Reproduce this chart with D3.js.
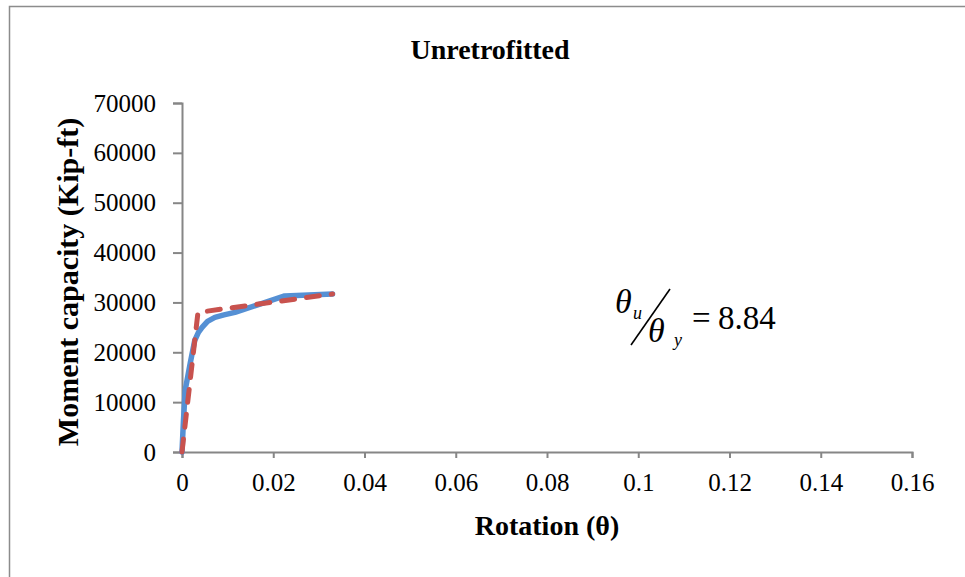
<!DOCTYPE html>
<html>
<head>
<meta charset="utf-8">
<script src="https://cdn.jsdelivr.net/npm/d3@7/dist/d3.min.js"></script>
<style>
  html, body { margin: 0; padding: 0; background: #fff; }
  svg { display: block; }
  text { font-family: "Liberation Serif", "Times New Roman", serif; fill: #000; }
</style>
</head>
<body>
<svg id="chart" width="965" height="577"></svg>
<script>
// Moment–rotation response of the unretrofitted section
const actualRotation = [0, 0.0003, 0.0007, 0.0018, 0.0028, 0.0036, 0.0044, 0.0056, 0.0072, 0.0092, 0.0116, 0.0225, 0.033];
const actualMoment   = [0, 6000, 12400, 17800, 22400, 24000, 25000, 26200, 27000, 27500, 28000, 31300, 31700];

// Bilinear idealisation of the same curve
const idealRotation = [0, 0.0035, 0.033];
const idealMoment   = [0, 28000, 31700];

const xTicks = [0, 0.02, 0.04, 0.06, 0.08, 0.1, 0.12, 0.14, 0.16];
const yTicks = [0, 10000, 20000, 30000, 40000, 50000, 60000, 70000];

const chartTitle = "Unretrofitted";
const xTitle = "Rotation (θ)";
const yTitle = "Moment capacity (Kip-ft)";
const ductility = "8.84";

const serif = '"Liberation Serif", "Times New Roman", serif';
const svg = d3.select("#chart");
const W = 965, H = 577;

// outer chart frame
svg.append("rect")
  .attr("x", 9.5).attr("y", 6.5)
  .attr("width", W + 20).attr("height", H + 20)
  .attr("fill", "none").attr("stroke", "#8c8c8c").attr("stroke-width", 1.5);

const x = d3.scaleLinear().domain([0, 0.16]).range([182, 912]);
const y = d3.scaleLinear().domain([0, 70000]).range([452, 103]);

const axisColor = "#868686";

const gx = svg.append("g")
  .attr("transform", `translate(0,${y(0)})`)
  .call(d3.axisBottom(x).tickValues(xTicks).tickFormat(d => String(+d.toFixed(2)))
        .tickSize(6).tickSizeOuter(6).tickPadding(15));
const gy = svg.append("g")
  .attr("transform", `translate(${x(0)},0)`)
  .call(d3.axisLeft(y).tickValues(yTicks).tickFormat(d => String(d))
        .tickSize(9).tickSizeOuter(9).tickPadding(17));

[gx, gy].forEach(g => {
  g.select(".domain").attr("stroke", axisColor).attr("stroke-width", 2);
  g.selectAll(".tick line").attr("stroke", axisColor).attr("stroke-width", 2);
  g.selectAll(".tick text")
    .style("font-family", serif)
    .style("font-size", "25px").attr("fill", "#000");
});

const line = d3.line().x(d => x(d[0])).y(d => y(d[1]));

svg.append("path")
  .datum(d3.zip(actualRotation, actualMoment))
  .attr("d", line)
  .attr("fill", "none").attr("stroke", "#5590D4")
  .attr("stroke-width", 5.5).attr("stroke-linejoin", "round").attr("stroke-linecap", "round");

svg.append("path")
  .datum(d3.zip(idealRotation, idealMoment))
  .attr("d", line)
  .attr("fill", "none").attr("stroke", "#C8524E")
  .attr("stroke-width", 5).attr("stroke-dasharray", "13,12")
  .attr("stroke-linecap", "round").attr("stroke-linejoin", "round");

// titles
svg.append("text").attr("x", 490).attr("y", 59)
  .attr("text-anchor", "middle").attr("font-weight", "bold").attr("font-size", 28)
  .style("font-family", serif)
  .text(chartTitle);
svg.append("text").attr("x", 547).attr("y", 535)
  .attr("text-anchor", "middle").attr("font-weight", "bold").attr("font-size", 28)
  .style("font-family", serif)
  .text(xTitle);
svg.append("text")
  .attr("transform", "translate(78,282) rotate(-90)")
  .attr("text-anchor", "middle").attr("font-weight", "bold").attr("font-size", 30)
  .style("font-family", serif)
  .text(yTitle);

// ductility ratio θu / θy
const eq = svg.append("g");
const eqText = (tx, ty, size, italic, str) =>
  eq.append("text").attr("x", tx).attr("y", ty)
    .style("font-family", "'Liberation Serif'")
    .style("font-size", size + "px")
    .style("font-style", italic ? "italic" : "normal")
    .text(str);
eqText(615, 313, 34, true, "θ");
eqText(633, 319, 18, true, "u");
eq.append("line")
  .attr("x1", 631).attr("y1", 345).attr("x2", 670).attr("y2", 289)
  .attr("stroke", "#000").attr("stroke-width", 1.6);
eqText(648, 342, 34, true, "θ");
eqText(674, 346, 18, true, "y");
eqText(692, 329, 33, false, "=");
eqText(718, 329, 33, false, ductility);
</script>
</body>
</html>
